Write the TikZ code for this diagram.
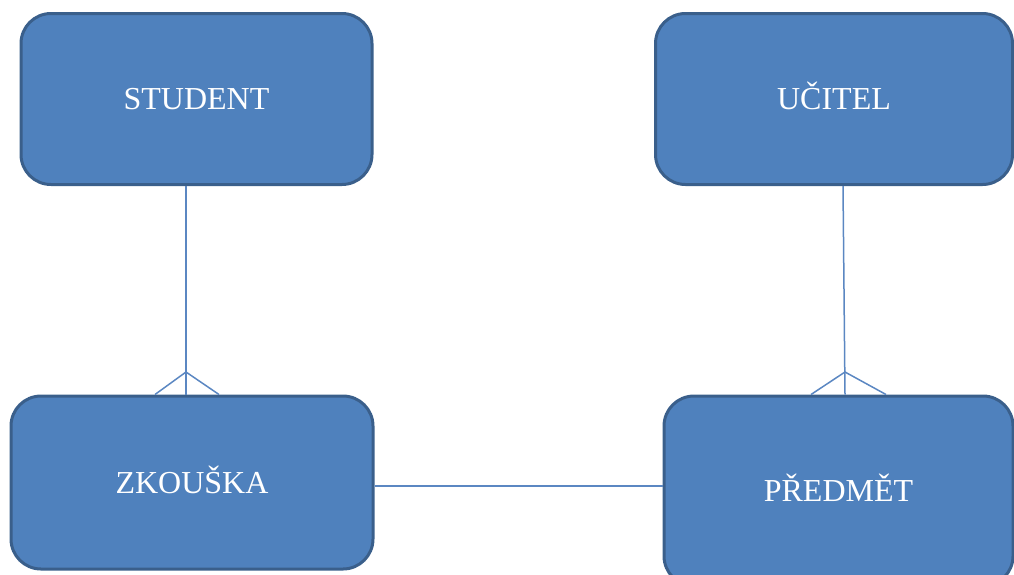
\documentclass[tikz,border=0pt]{standalone}
\usepackage{fontspec}
\setmainfont{Liberation Serif}
\definecolor{boxfill}{HTML}{4F81BD}
\definecolor{boxline}{HTML}{3A5F8B}
\definecolor{conn}{HTML}{5B87C2}
\begin{document}
\begin{tikzpicture}[x=1pt,y=-1pt,
  entity/.style={draw=boxline, line width=3pt, fill=boxfill, rounded corners=30pt,
    text=white, font=\fontsize{32}{36}\selectfont, text height=21.7pt, text depth=0pt,
    inner sep=0pt},
  conline/.style={draw=conn, line width=1.5pt}]
\useasboundingbox (0,0) rectangle (1014,574);
\clip (0,0) rectangle (1014,574);
\node[entity, minimum width=351pt, minimum height=171pt] (st) at (196.5,99) {STUDENT};
\node[entity, minimum width=357pt, minimum height=171pt] (uc) at (834,99) {UČITEL};
\node[entity, minimum width=362pt, minimum height=173pt] (zk) at (192,482.5) {ZKOUŠKA};
\node[entity, minimum width=349pt, minimum height=190pt] (pr) at (838.5,491) {PŘEDMĚT};
% vertical connectors
\coordinate (ls) at (186,0);
\coordinate (lc) at (186,372);
\coordinate (lf1) at (155,0);
\coordinate (lf2) at (219,0);
\draw[conline] (ls |- st.south) -- (ls |- zk.north);
\draw[conline] (lf1 |- zk.north) -- (lc) -- (lf2 |- zk.north);
\coordinate (rs) at (843,0);
\coordinate (re) at (845,0);
\coordinate (rc) at (845,372);
\coordinate (rf1) at (811,0);
\coordinate (rf2) at (886,0);
\draw[conline] (rs |- uc.south) -- (re |- pr.north);
\draw[conline] (rf1 |- pr.north) -- (rc) -- (rf2 |- pr.north);
% horizontal connector
\coordinate (h) at (0,486);
\draw[conline] (zk.east |- h) -- (pr.west |- h);
\end{tikzpicture}
\end{document}
